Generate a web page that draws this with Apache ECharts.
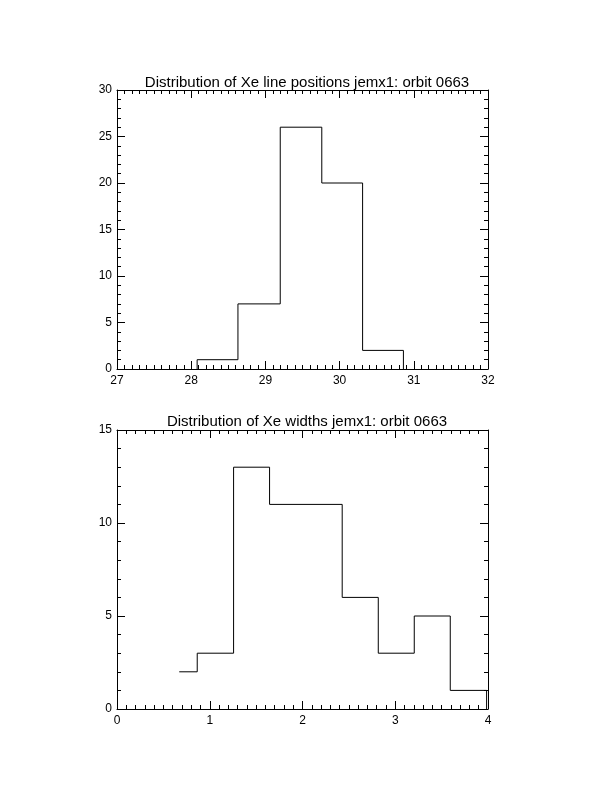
<!DOCTYPE html>
<html>
<head>
<meta charset="utf-8">
<script src="https://cdn.jsdelivr.net/npm/echarts@6/dist/echarts.min.js"></script>
<style>
html,body{margin:0;padding:0;background:#fff;}
#c{width:612px;height:792px;}
</style>
</head>
<body>
<div id="c"></div>
<script>
// Top histogram: Xe line positions
var topTitle = 'Distribution of Xe line positions jemx1: orbit 0663';
var topEdges = [28.08, 28.63, 29.20, 29.76, 30.31, 30.86];
var topCounts = [1, 7, 26, 20, 2];
var topStart = 0;   // level before the first edge
var topEnd = 0;     // level after the last edge

// Bottom histogram: Xe widths
var botTitle = 'Distribution of Xe widths jemx1: orbit 0663';
var botEdges = [0.671, 0.865, 1.257, 1.645, 2.428, 2.817, 3.205, 3.593, 3.985];
var botCounts = [2, 3, 13, 11, 6, 3, 5, 1];
var botStart = null; // no leading level
var botEnd = 0;

var topXTicks = [27, 28, 29, 30, 31, 32];
var topYTicks = [0, 5, 10, 15, 20, 25, 30];
var botXTicks = [0, 1, 2, 3, 4];
var botYTicks = [0, 5, 10, 15];

function stepPoints(edges, counts, start, end) {
  var pts = [];
  if (start !== null) pts.push([edges[0], start]);
  for (var i = 0; i < counts.length; i++) {
    pts.push([edges[i], counts[i]]);
    pts.push([edges[i + 1], counts[i]]);
  }
  if (end !== null) pts.push([edges[edges.length - 1], end]);
  return pts;
}

var FONT = 'Liberation Sans';
var black = '#000';

function xAx(grid, ticks, pos, labels) {
  return {
    type: 'value', gridIndex: grid, position: pos,
    min: ticks[0], max: ticks[ticks.length - 1], interval: ticks[1] - ticks[0],
    axisLine: {show: true, onZero: false, lineStyle: {color: black, width: 1}},
    axisTick: {show: true, inside: true, length: 8, lineStyle: {color: black}},
    minorTick: {show: true, splitNumber: 10, length: 4, lineStyle: {color: black}},
    splitLine: {show: false},
    axisLabel: {show: labels, color: black, fontFamily: FONT, fontSize: 12, margin: 6},
  };
}
function yAx(grid, ticks, pos, labels) {
  return {
    type: 'value', gridIndex: grid, position: pos,
    min: ticks[0], max: ticks[ticks.length - 1], interval: ticks[1] - ticks[0],
    axisLine: {show: true, onZero: false, lineStyle: {color: black, width: 1}},
    axisTick: {show: true, inside: true, length: 8, lineStyle: {color: black}},
    minorTick: {show: true, splitNumber: 5, length: 4, lineStyle: {color: black}},
    splitLine: {show: false},
    axisLabel: {show: labels, color: black, fontFamily: FONT, fontSize: 12, margin: 5},
  };
}

var chart = echarts.init(document.getElementById('c'), null, {renderer: 'canvas'});
chart.setOption({
  animation: false,
  backgroundColor: '#fff',
  title: [
    {text: topTitle, left: 302, top: 70, textAlign: 'center',
     textStyle: {fontFamily: FONT, fontSize: 15, fontWeight: 'normal', color: black}},
    {text: botTitle, left: 302, top: 409, textAlign: 'center',
     textStyle: {fontFamily: FONT, fontSize: 15, fontWeight: 'normal', color: black}}
  ],
  grid: [
    {left: 117, top: 90, width: 371, height: 279},
    {left: 117, top: 430, width: 371, height: 279}
  ],
  xAxis: [
    xAx(0, topXTicks, 'bottom', true),
    xAx(0, topXTicks, 'top', false),
    xAx(1, botXTicks, 'bottom', true),
    xAx(1, botXTicks, 'top', false)
  ],
  yAxis: [
    yAx(0, topYTicks, 'left', true),
    yAx(0, topYTicks, 'right', false),
    yAx(1, botYTicks, 'left', true),
    yAx(1, botYTicks, 'right', false)
  ],
  series: [
    {type: 'line', xAxisIndex: 0, yAxisIndex: 0, showSymbol: false, symbol: 'none',
     data: stepPoints(topEdges, topCounts, topStart, topEnd),
     lineStyle: {color: black, width: 1}},
    {type: 'line', xAxisIndex: 2, yAxisIndex: 2, showSymbol: false, symbol: 'none',
     data: stepPoints(botEdges, botCounts, botStart, botEnd),
     lineStyle: {color: black, width: 1}}
  ]
});
</script>
</body>
</html>
